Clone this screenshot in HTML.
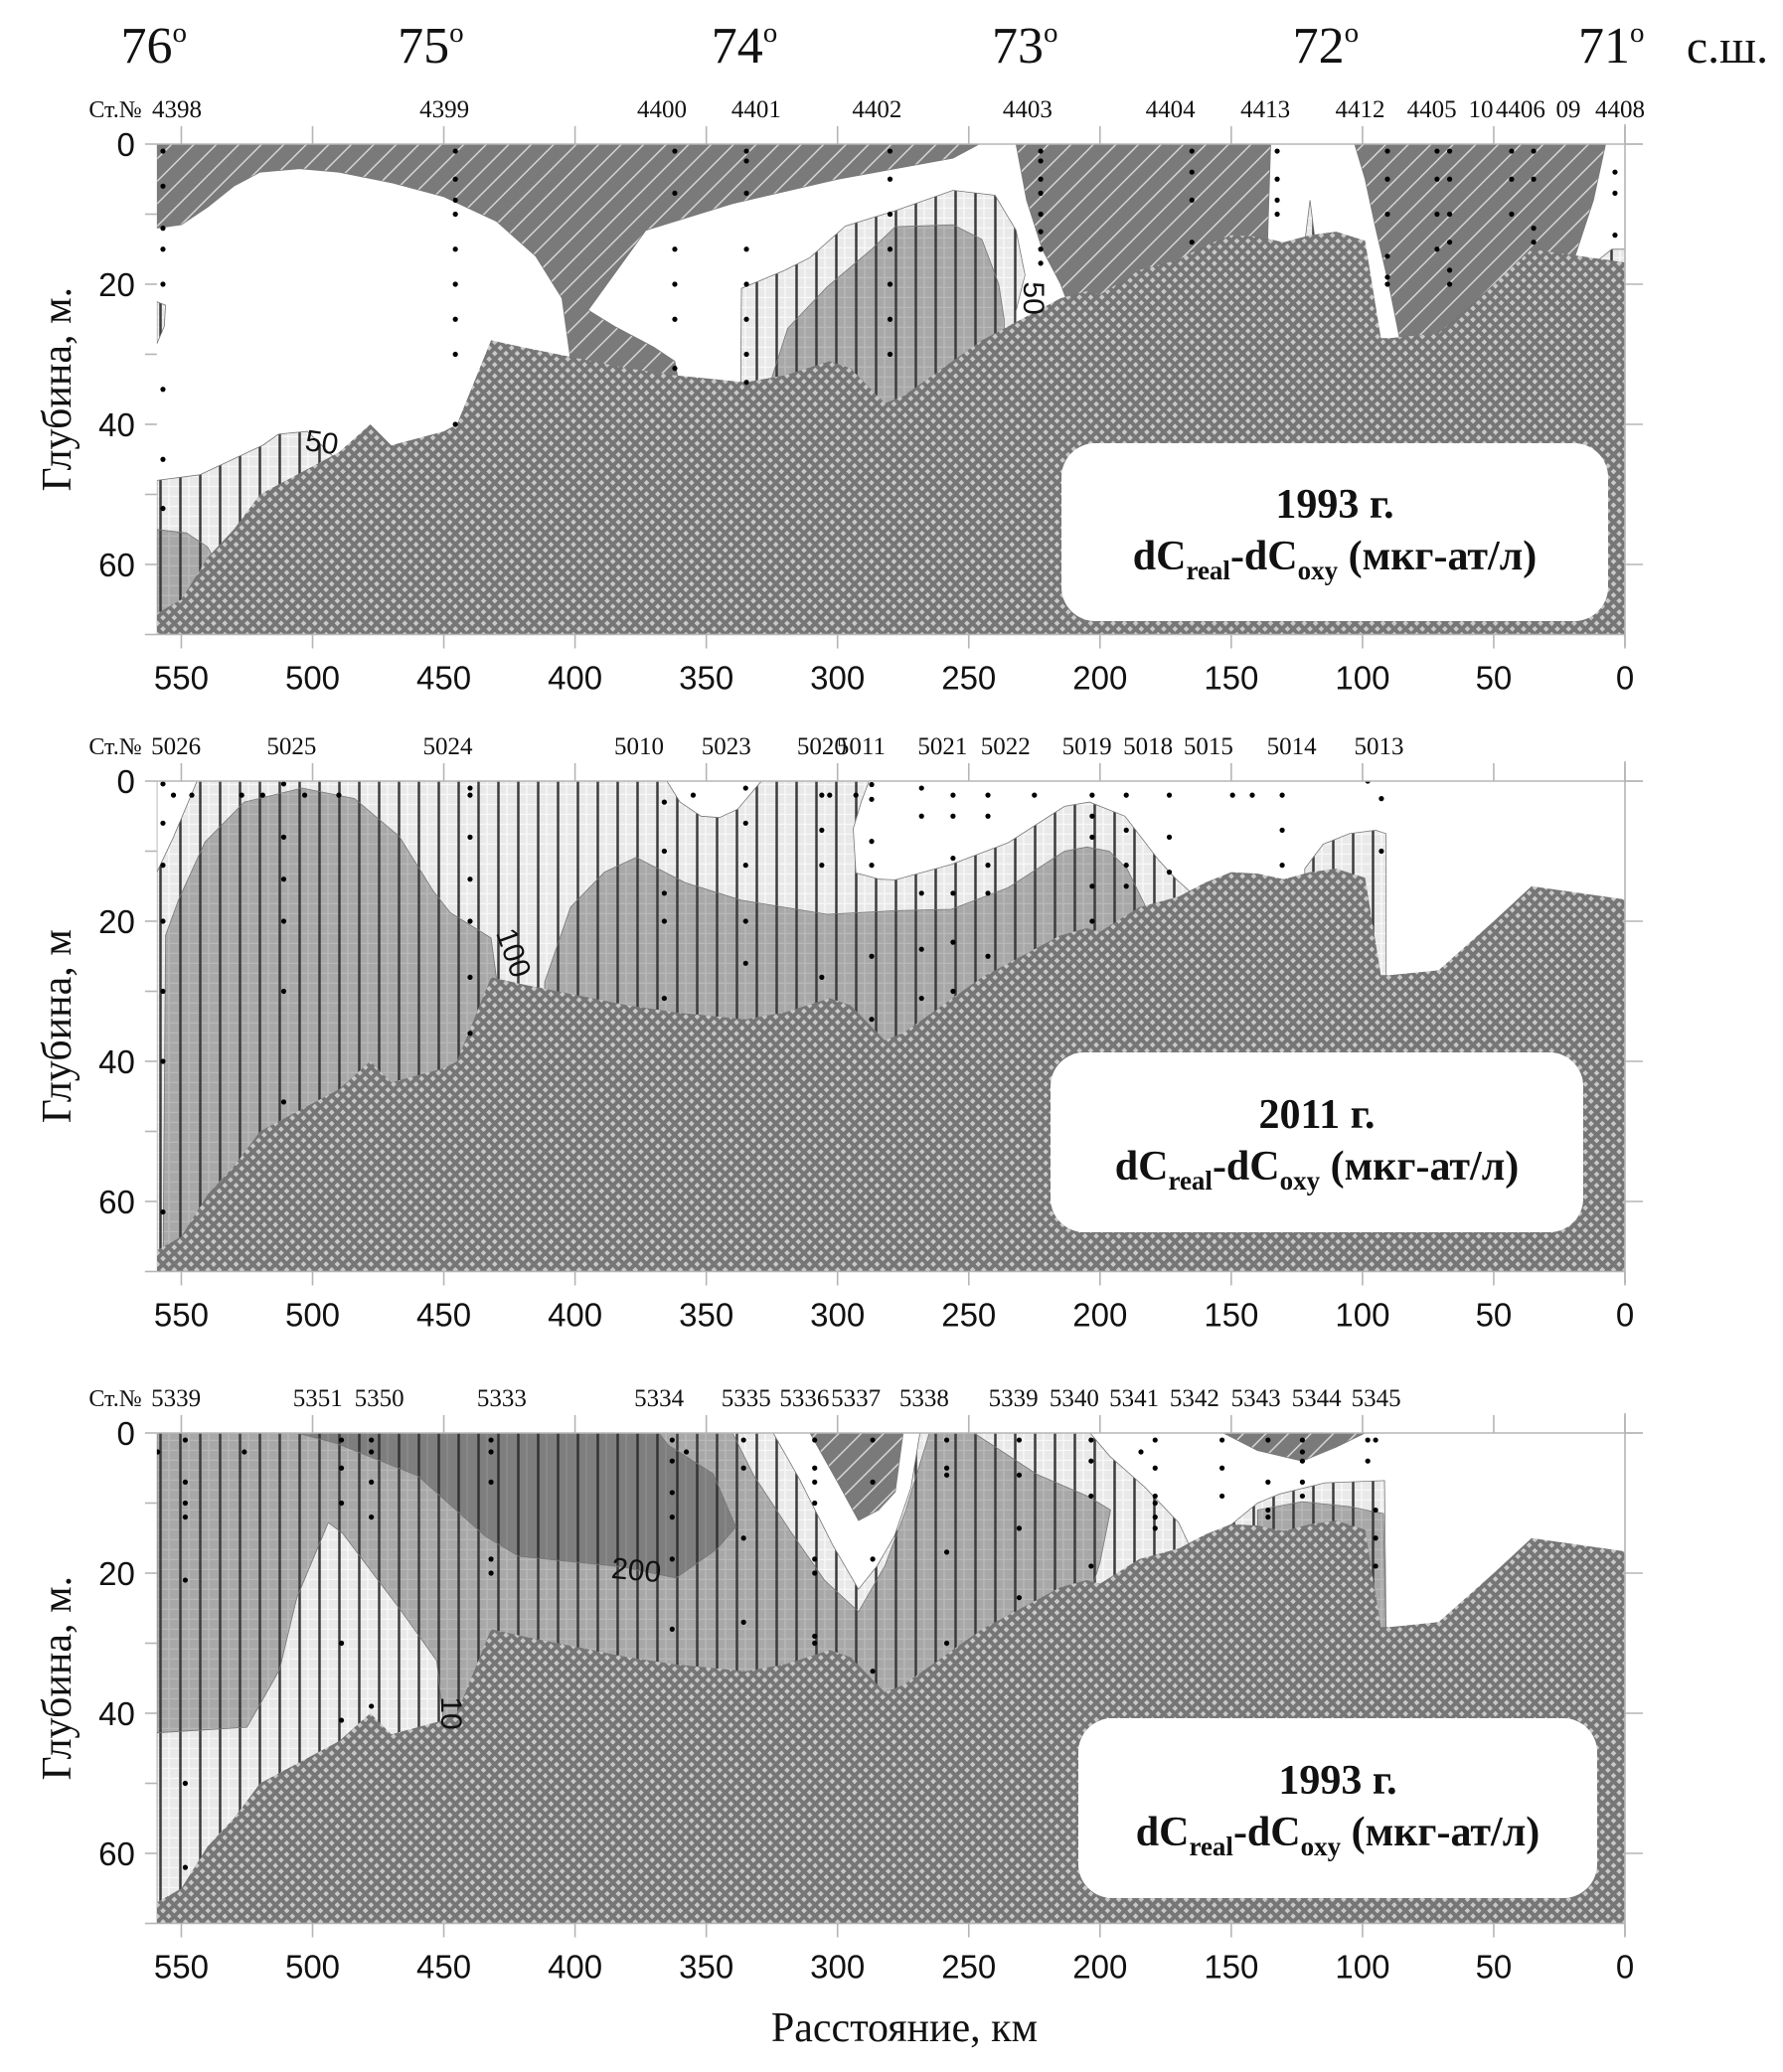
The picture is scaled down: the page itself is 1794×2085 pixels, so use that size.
<!DOCTYPE html>
<html><head><meta charset="utf-8">
<style>
html,body{margin:0;padding:0;background:#fff;}
svg{display:block;}
.serif{font-family:"Liberation Serif",serif;}
.sans{font-family:"Liberation Sans",sans-serif;}
</style></head>
<body>
<svg id="chart" xmlns="http://www.w3.org/2000/svg" width="1794" height="2085" viewBox="0 0 1794 2085">
<defs>
<pattern id="pHatch" patternUnits="userSpaceOnUse" width="16" height="16" patternTransform="rotate(45)">
<rect width="16" height="16" fill="#7a7a7a"/><line x1="0" y1="0" x2="0" y2="16" stroke="#d4d4d4" stroke-width="3"/></pattern>
<pattern id="pLight" patternUnits="userSpaceOnUse" width="20" height="10">
<rect width="20" height="10" fill="#e9e9e9"/><line x1="0" y1="9.5" x2="20" y2="9.5" stroke="#f8f8f8" stroke-width="1.5"/><line x1="10" y1="0" x2="10" y2="10" stroke="#f8f8f8" stroke-width="1.5"/><line x1="1.5" y1="0" x2="1.5" y2="10" stroke="#3c3c3c" stroke-width="2.5"/></pattern>
<pattern id="pGray" patternUnits="userSpaceOnUse" width="20" height="10">
<rect width="20" height="10" fill="#a8a8a8"/><line x1="0" y1="9.5" x2="20" y2="9.5" stroke="#b8b8b8" stroke-width="1.5"/><line x1="10" y1="0" x2="10" y2="10" stroke="#b8b8b8" stroke-width="1.5"/><line x1="1.5" y1="0" x2="1.5" y2="10" stroke="#3c3c3c" stroke-width="2.5"/></pattern>
<pattern id="pDark" patternUnits="userSpaceOnUse" width="20" height="10">
<rect width="20" height="10" fill="#7e7e7e"/><line x1="10" y1="0" x2="10" y2="10" stroke="#8c8c8c" stroke-width="1.5"/><line x1="1.5" y1="0" x2="1.5" y2="10" stroke="#333" stroke-width="2.5"/></pattern>
<pattern id="pBathy" patternUnits="userSpaceOnUse" width="8" height="8" patternTransform="rotate(45)">
<rect width="8" height="8" fill="#767676"/><rect x="1.5" y="1.5" width="4" height="4" fill="#c9c9c9"/></pattern>
</defs>
<g id="root"></g>
</svg>
<script>
// ---------- data ----------
const xTicks = [550,500,450,400,350,300,250,200,150,100,50,0];
const yTicks = [0,20,40,60];
const degLabels = ["76","75","74","73","72","71"];
const degKm = [560.5,455,335.5,228.6,114,5.2];
const bathyKm    = [559.3,550,540,530,520,510,490,478,470,450,445,432,420,400,380,362,335,320,303,295,282,275,260,245,230,215,205,200,185,170,160,150,140,130,120,110,99,93,89.5,71,50,35.6,0];
const bathyDepth = [67,65,59,55,50,48,44,40,43,41,40,28,29,30.5,32,33,34,33,31,32,37,36,32,28,25,22,21,21.5,18,16.5,14.5,13,13.2,14,13,12.5,13.8,27.7,27.7,27,20,15,16.9];

const st1Names = ["4398","4399","4400","4401","4402","4403","4404","4413","4412","4405","10","4406","09","4408"];
const st1Km = [551.7,449.8,366.9,331,285,227.6,173.2,137,100.9,73.6,54.9,39.8,21.6,1.9];
const st2Names = ["5026","5025","5024","5010","5023","5020","5011","5021","5022","5019","5018","5015","5014","5013"];
const st2Km = [552,508,448.5,375.6,342.4,306,291,260,236,205,181.7,158.7,127,93.7];
const st3Names = ["5339","5351","5350","5333","5334","5335","5336","5337","5338","5339","5340","5341","5342","5343","5344","5345"];
const st3Km = [552,498,474.6,427.9,368,334.8,312.6,293,267,233,209.8,187,164,140.6,117.5,94.8];

const dots1Km = [557,445.6,362,334.7,280,222.6,165,132.5,90.5,71.6,66.8,43.2,34.8,3.8];
const dots1Depths = [[1,6,12,15,20,35,45,52],[1,5,8,10,15,20,25,30,40],[1,7,15,20,25,32],[1,2.4,7,15,20,25,30,34],[1,5,10,15,20,25,30],[1,2.4,5,7,10,12.5,15,17],[1,4,8,14],[1,5,8,10],[1,5,10,16,19,20],[1,5,10,15],[1,5,10,14,18,20],[1,5,10],[1,5,12,14],[4,7,13]];
const dots2Km = [557,553,546,527,519,511,503,490,440,366,355,335,306,303,293,287,268,256,242.7,225,203,190,173.6,149.5,142,130.6,98,92.8];
const dots2Depths = [[0.4,6,12,20,30,40,61.5],[2],[2],[2],[2],[0.4,8,14,20,30,45.8],[2],[2],[1,2,8,14,20,28,36],[3,10,16,20,31],[2],[1,6,12,20,26],[2,7,12,28],[2],[2],[0.5,2.6,8.6,12,25,34],[1,5,16,24,31],[2,5,11,16,23,30],[2,5,12,16,25],[2],[2,5,8,15,20],[2,7,12,15],[2,8,13],[2],[2],[2,7,12],[0],[2.5,10]];
const dots3Km = [559,548.5,526,489,477.6,432,363,357.6,335.8,308.7,286.6,258.4,230.8,203.4,184.4,179,153.5,136,122.9,98,95];
const dots3Depths = [[2.7],[1,7,10,12,21,50,62],[2.7],[1,5,10,30,41],[1,2.7,7,12,39],[1,2.7,7,18,20],[1,4,8.5,12,18,28],[2.7],[1,5,15,27],[1,5,7,10,18,20,29,30],[1,7,18,34],[1,5,6,17,30],[1,6,13.6,23.5],[1,4,9,19],[2.7],[1,5,9,10,12,13.6],[1,5,9],[1,7,11,12],[1,2.7,4,7,9],[1,4],[1,11,15,19]];

// contour zones (km, depth)
const p1Hatch = [[559.3,0],[246,0],[256,2],[278,3.5],[300,5],[340,8.5],[373,12.3],[395,23.7],[385,26],[370,29],[362,31],[360,35],[360,40],[402,40],[402,30],[405,22],[415,16],[430,11],[450,7.5],[470,5.5],[490,4],[505,3.5],[520,4],[530,6],[540,9],[550,11.5],[559.3,12]];
const p1HatchB = [[232,0],[135,0],[136,12],[137,30],[213,30],[213,22],[215,20],[222,15],[228,8]];
const p1HatchC = [[103,0],[7.4,0],[12,8],[19,16],[34,16],[34,35],[86,35],[86,27.5],[90,20],[95,12],[99,5]];
const p1Light = [[337,40],[336.6,20.6],[320,18],[310.5,16.2],[297,11.7],[278,9.5],[256,6.6],[240,7.3],[232,12.3],[228.6,18.7],[232,23.8],[232,40]];
const p1Gray = [[326,40],[325.6,34],[319,26.3],[304,20.4],[287,15],[278,11.8],[256,11.5],[245,13.6],[238.6,20],[236.5,25],[236,40]];
const p1LightL = [[559.3,48],[543,47.2],[519,43],[513,41.4],[502,41],[491,45],[491,70],[559.3,70]];
const p1GrayL = [[559.3,55],[548,55.5],[540,57.5],[535,61],[535,70],[559.3,70]];
const p1LightS = [[559.3,22.5],[556,23],[556.5,26],[559.3,28.5]];
const p1Spike = [[122,14],[120,8],[118,14]];
const p1LightR = [[10,16.5],[5,15],[0,15],[0,18]];

const p2LightBase = [[559.3,0],[0,0],[0,70],[559.3,70]];
const p2WhiteL = [[559.3,0],[544,0],[553,8],[559.3,13]];
const p2White1 = [[365,0],[360,3],[352,5],[345,5.2],[338,4],[329,0]];
const p2WhiteR = [[288,0],[291,3],[294,6.8],[293,13.1],[284,14],[278,14.1],[256.7,11.9],[235,8.8],[213.5,3.6],[204,3],[190.5,5],[177.6,11.3],[171,14],[165,16],[165,70],[0,70],[0,0]];
const p2LightR = [[122,12.5],[115,9],[105,7.5],[95,7],[91,7.5],[91,30],[122,30]];
const p2GrayA = [[557,70],[556,22],[551,16.9],[541,8.7],[526,3],[504,1],[484,2.5],[467,7.9],[454,15.7],[447.5,18.8],[432,22.4],[430,28],[430,70]];
const p2GrayB = [[411.6,40],[411.6,28.7],[401.7,18],[388.8,13],[376.7,10.9],[358,14.5],[336.6,17],[304,19],[278,18.5],[256.7,18.3],[235,15.2],[213.5,10],[205,9.4],[196.5,10],[189.7,12.5],[183,17.6],[180,25],[180,40]];

const p3Light = [[559.3,0],[203.8,0],[196.3,3.3],[183,7.7],[170,12.8],[166,16],[166,70],[559.3,70]];
const p3Gray = [[559.3,0],[248,0],[224,5.9],[204.8,9],[196,11],[200,18.5],[203,22],[203,70],[559.3,70]];
const p3LightL = [[559.3,42.8],[525,42],[512.6,33.8],[506,23.5],[494,12.8],[488.6,14.3],[467,25],[452.7,32.5],[450.5,40],[450,70],[559.3,70]];
const p3Dark = [[506,0],[368,0],[364.6,1.7],[347.4,5.8],[338.7,13.4],[346,16.6],[361.6,20.7],[382,19.1],[421.4,17.6],[434,14.8],[460,6.1],[490.7,1.5]];
const p3LightV = [[340,0],[332,6],[318,14],[305,21],[292,25.5],[282,19],[274,11],[265,0]];
const p3WhiteV = [[324.5,0],[314.6,6.5],[301.8,16],[292,22.3],[285,19],[278.3,14.7],[272,7.8],[268.6,0]];
const p3HatchV = [[310.5,0],[300,7],[292,12.5],[284.4,11],[278,8.4],[275,0]];
const p3HatchR = [[153,0],[140,2.5],[123,4],[110,2],[99,0]];
const p3LightR = [[153,14],[140,10],[131.5,8.7],[114.3,7.1],[91.6,6.8],[91,30],[153,30]];
const p3GrayR = [[140,14],[140,11],[123,9.8],[105,10.5],[92,11.5],[91,30],[140,30]];

// ---------- drawing ----------
const NS = "http://www.w3.org/2000/svg";
const root = document.getElementById('root');
const KM0X = 1635, PXKM = 2.641, PXM = 7.05, KMMAX = 559.3;
function X(km){ return KM0X - km*PXKM; }
function mk(tag, attrs, parent){
  const e = document.createElementNS(NS, tag);
  for (const k in attrs) e.setAttribute(k, attrs[k]);
  (parent||root).appendChild(e); return e;
}
function poly(pts, top, fill, name, g){
  const d = pts.map(p => X(p[0]).toFixed(1)+','+(top+p[1]*PXM).toFixed(1)).join(' ');
  const e = mk('polygon', {points:d, fill:fill, stroke:'#777', 'stroke-width':'0.8'}, g);
  
  
  return e;
}
function txt(x,y,s,size,cls,anchor,name,g,extra){
  const e = mk('text', Object.assign({x:x,y:y,'font-size':size,'text-anchor':anchor||'middle','class':cls,fill:'#111'}, extra||{}), g);
  e.textContent = s;
  
  
  return e;
}

function panel(cfg){
  const top = cfg.top, bot = top + 70*PXM, L = X(KMMAX), R = X(0);
  const g = mk('g', {});
  
  
  const cid = 'clip'+cfg.id;
  const cp = mk('clipPath', {id:cid}, g);
  mk('rect', {x:L, y:top, width:R-L, height:bot-top}, cp);
  const pg = mk('g', {'clip-path':'url(#'+cid+')'}, g);
  
  
  const bg = mk('rect', {x:L, y:top, width:R-L, height:bot-top, fill:'#fff'}, pg);
  
  
  cfg.layers.forEach(l => poly(l[0], top, l[1], l[2], pg));
  const bp = bathyKm.map((k,i)=>[k, bathyDepth[i]]).concat([[0,70],[KMMAX,70]]);
  const bathy = poly(bp, top, 'url(#pBathy)', 'seabed-bathymetry', pg);
  bathy.setAttribute('stroke', 'none');
  cfg.dotsKm.forEach((k,i) => cfg.dotsDepths[i].forEach(d => {
    const c = mk('circle', {cx:X(k), cy:top+d*PXM, r:2.6, fill:'#000'}, pg);
    
    
  }));
  (cfg.clabels||[]).forEach(c => {
    txt(X(c[0]), top+c[1]*PXM, c[2], 30, 'sans', 'middle', 'contour-label', pg, {transform:'rotate('+c[3]+' '+X(c[0])+' '+(top+c[1]*PXM)+')'});
  });
  const fr = mk('g', {stroke:'#b5b5b5', 'stroke-width':'1.6', fill:'none'}, g);
  
  
  mk('line', {x1:L, y1:top, x2:R+18, y2:top}, fr);
  mk('line', {x1:L, y1:bot, x2:R, y2:bot}, fr);
  mk('line', {x1:R, y1:top-20, x2:R, y2:bot+12}, fr);
  xTicks.forEach(k => {
    mk('line', {x1:X(k), y1:top-18, x2:X(k), y2:top}, fr);
    mk('line', {x1:X(k), y1:bot, x2:X(k), y2:bot+14}, fr);
    txt(X(k), bot+55, String(k), 33, 'sans', 'middle', 'x-tick-label', g);
  });
  for (let d=0; d<=70; d+=10){
    mk('line', {x1:L-12, y1:top+d*PXM, x2:L, y2:top+d*PXM}, fr);
    if (d%20===0) mk('line', {x1:R, y1:top+d*PXM, x2:R+18, y2:top+d*PXM}, fr);
  }
  yTicks.forEach(d => txt(L-22, top+d*PXM+12, String(d), 33, 'sans', 'end', 'y-tick-label', g));
  const cy = top + 35*PXM;
  txt(57, cy, cfg.ytitle, 42, 'serif', 'middle', 'y-axis-title', g, {transform:'rotate(-90 57 '+cy+')', dy:'14'});
  txt(116, top-27, 'Ст.№', 24, 'serif', 'middle', 'station-number-caption', g);
  cfg.stNames.forEach((s,i) => txt(X(cfg.stKm[i]), top-27, s, 25, 'serif', 'middle', 'station-label', g));
  const b = cfg.box;
  const rect = mk('rect', {x:b[0], y:b[1], width:b[2], height:b[3], rx:34, fill:'#fff'}, g);
  
  
  const cx = b[0]+b[2]/2;
  txt(cx, b[1]+b[3]*0.42, cfg.year, 42, 'serif', 'middle', 'legend-year', g, {'font-weight':'bold'});
  const t2 = txt(cx, b[1]+b[3]*0.42+52, '', 42, 'serif', 'middle', 'legend-quantity', g, {'font-weight':'bold'});
  t2.innerHTML = 'dC<tspan font-size="27" dy="10">real</tspan><tspan dy="-10">-dC</tspan><tspan font-size="27" dy="10">oxy</tspan><tspan dy="-10"> (мкг-ат/л)</tspan>';
}

degLabels.forEach((s,i) => {
  const t = txt(X(degKm[i]), 63, '', 52, 'serif', 'middle', 'latitude-label', root);
  t.innerHTML = s + '<tspan font-size="29" dy="-21">o</tspan>';
});
txt(1738, 63, 'с.ш.', 48, 'serif', 'middle', 'latitude-unit', root);

panel({id:1, name:'panel-1993-a', top:145, ytitle:'Глубина, м.', year:'1993 г.',
  box:[1068,446,550,179], stNames:st1Names, stKm:st1Km, dotsKm:dots1Km, dotsDepths:dots1Depths,
  clabels:[[497,44,'50',8],[229,22,'50',90]],
  layers:[[p1Hatch,'url(#pHatch)','zone-hatched-negative'],[p1HatchB,'url(#pHatch)','zone-hatched-negative'],[p1HatchC,'url(#pHatch)','zone-hatched-negative'],
    [p1Light,'url(#pLight)','zone-50-100'],[p1Gray,'url(#pGray)','zone-100-200'],[p1LightL,'url(#pLight)','zone-50-100'],[p1GrayL,'url(#pGray)','zone-100-200'],
    [p1LightS,'url(#pLight)','zone-50-100'],[p1Spike,'url(#pLight)','zone-50-100'],[p1LightR,'url(#pLight)','zone-50-100']]});

panel({id:2, name:'panel-2011', top:786, ytitle:'Глубина, м', year:'2011 г.',
  box:[1057,1059,536,181], stNames:st2Names, stKm:st2Km, dotsKm:dots2Km, dotsDepths:dots2Depths,
  clabels:[[427,25,'100',70]],
  layers:[[p2LightBase,'url(#pLight)','zone-50-100'],[p2WhiteL,'#fff','zone-below-50'],[p2White1,'#fff','zone-below-50'],[p2WhiteR,'#fff','zone-below-50'],
    [p2LightR,'url(#pLight)','zone-50-100'],[p2GrayA,'url(#pGray)','zone-100-200'],[p2GrayB,'url(#pGray)','zone-100-200']]});

panel({id:3, name:'panel-1993-b', top:1442, ytitle:'Глубина, м.', year:'1993 г.',
  box:[1085,1729,522,181], stNames:st3Names, stKm:st3Km, dotsKm:dots3Km, dotsDepths:dots3Depths,
  clabels:[[377,21,'200',5],[451,40,'10',90]],
  layers:[[p3Light,'url(#pLight)','zone-50-100'],[p3Gray,'url(#pGray)','zone-100-200'],[p3LightL,'url(#pLight)','zone-50-100'],[p3Dark,'url(#pDark)','zone-above-200'],
    [p3LightV,'url(#pLight)','zone-50-100'],[p3WhiteV,'#fff','zone-below-50'],[p3HatchV,'url(#pHatch)','zone-hatched-negative'],[p3HatchR,'url(#pHatch)','zone-hatched-negative'],
    [p3LightR,'url(#pLight)','zone-50-100'],[p3GrayR,'url(#pGray)','zone-100-200']]});

txt(910, 2054, 'Расстояние, км', 42, 'serif', 'middle', 'x-axis-title', root);
</script>
</body></html>
